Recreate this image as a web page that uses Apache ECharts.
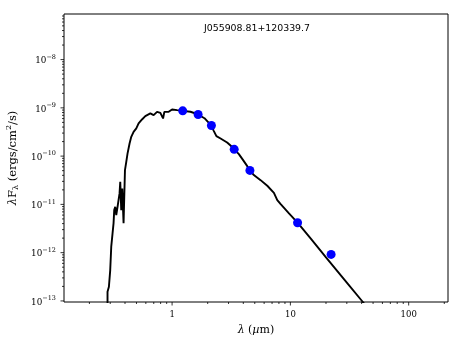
<!DOCTYPE html>
<html>
<head>
<meta charset="utf-8">
<script src="https://cdn.jsdelivr.net/npm/echarts@6/dist/echarts.min.js"></script>
<style>
  html, body { margin: 0; padding: 0; background: #fff; }
  #main { width: 463px; height: 348px; }
</style>
</head>
<body>
<div id="main"></div>
<script>
// model spectrum (wavelength in micron, lambda*F_lambda)
var modelWave = [0.2846, 0.2846, 0.2846, 0.2924, 0.300, 0.306, 0.3139, 0.320, 0.3243, 0.3307,
  0.3373, 0.3459, 0.3527, 0.3597, 0.3647, 0.3717, 0.3791, 0.389, 0.3943, 0.3997,
  0.410, 0.4204, 0.4371, 0.4518, 0.4727, 0.4983, 0.5212, 0.5568, 0.5938, 0.6549,
  0.6982, 0.7463, 0.7962, 0.8388, 0.8602, 0.9359, 1.0, 1.102, 1.23, 1.43,
  1.66, 1.878, 2.15, 2.25, 2.37, 2.57, 2.92, 3.12, 3.35, 3.67,
  4.04, 4.32, 4.55, 4.91, 5.6, 6.38, 7.26, 7.75, 8.28, 9.73,
  11.5, 15, 20, 30, 40, 50];
var modelFlux = [5e-14, 1.04e-13, 1.55e-13, 1.97e-13, 4.36e-13, 1.33e-12, 2.51e-12, 4.05e-12, 7.6e-12, 8.9e-12,
  6.0e-12, 8.9e-12, 1.23e-11, 1.69e-11, 2.94e-11, 7.6e-12, 2.14e-11, 4.05e-12, 1.44e-11, 5.13e-11,
  7.62e-11, 1.14e-10, 1.83e-10, 2.51e-10, 3.19e-10, 3.75e-10, 4.75e-10, 5.75e-10, 6.73e-10, 7.66e-10,
  7.06e-10, 8.27e-10, 7.88e-10, 6.03e-10, 8.27e-10, 8.27e-10, 9.27e-10, 8.96e-10, 8.67e-10, 8.3e-10,
  7.3e-10, 6.1e-10, 4.3e-10, 3.34e-10, 2.6e-10, 2.32e-10, 1.92e-10, 1.66e-10, 1.38e-10, 1.1e-10,
  7.87e-11, 6.2e-11, 5.06e-11, 4.05e-11, 3.18e-11, 2.43e-11, 1.74e-11, 1.23e-11, 1.01e-11, 6.5e-12,
  4.2e-12, 1.9e-12, 8.0e-13, 2.4e-13, 1.02e-13, 5.2e-14];

// photometry: J, H, K, W1, W2, W3, W4
var photWave = [1.23, 1.66, 2.15, 3.35, 4.55, 11.5, 22.1];
var photFlux = [8.67e-10, 7.3e-10, 4.3e-10, 1.38e-10, 5.06e-11, 4.16e-12, 9.2e-13];

var title = 'J055908.81+120339.7';
var xMajorTicks = [1, 10, 100];
var yMajorExps = [-13, -12, -11, -10, -9, -8];

var X_MIN = 0.122, X_MAX = 215;
var Y_MIN = 9.5e-14, Y_MAX = 8.8e-8;

function isPow10(v) {
  var l = Math.log10(v);
  return Math.abs(l - Math.round(l)) < 1e-6;
}

// tick marks [value, length]
var xTicks = [], yTicks = [];
for (var e = -1; e <= 2; e++) {
  for (var m = 1; m <= 9; m++) {
    var v = m * Math.pow(10, e);
    if (v >= X_MIN && v <= X_MAX) xTicks.push([v, m === 1 ? 3.5 : 2]);
  }
}
for (var e2 = -14; e2 <= -8; e2++) {
  for (var m2 = 1; m2 <= 9; m2++) {
    var v2 = m2 * Math.pow(10, e2);
    if (v2 >= Y_MIN && v2 <= Y_MAX) yTicks.push([v2, m2 === 1 ? 3.5 : 2]);
  }
}

function tickSeries(ticks, isX) {
  return {
    type: 'custom',
    silent: true,
    clip: false,
    z: 5,
    data: ticks.map(function (t) { return isX ? [t[0], Y_MIN, t[1]] : [X_MIN, t[0], t[1]]; }),
    encode: { x: 0, y: 1 },
    renderItem: function (params, api) {
      var p = api.coord([api.value(0), api.value(1)]);
      var len = api.value(2);
      var shape = isX
        ? { x1: p[0], y1: p[1], x2: p[0], y2: p[1] + len }
        : { x1: p[0], y1: p[1], x2: p[0] - len, y2: p[1] };
      return { type: 'line', shape: shape, style: { stroke: '#000', lineWidth: 0.8 } };
    }
  };
}

var serif = '"DejaVu Serif", serif';

var chart = echarts.init(document.getElementById('main'), null, { renderer: 'canvas' });
chart.setOption({
  animation: false,
  backgroundColor: '#fff',
  grid: {
    left: 64, top: 14, width: 384, height: 288,
    outerBoundsMode: 'none', containLabel: false,
    show: true, borderColor: '#000', borderWidth: 1, backgroundColor: 'transparent'
  },
  graphic: [{
    type: 'text', x: 257, y: 29, z: 10,
    style: {
      text: title, fill: '#000', font: '9.4px "DejaVu Sans"',
      textAlign: 'center', textVerticalAlign: 'middle', align: 'center', verticalAlign: 'middle'
    }
  }],
  xAxis: {
    type: 'log', logBase: 10, min: X_MIN, max: X_MAX,
    axisLine: { show: false }, axisTick: { show: false }, splitLine: { show: false },
    axisLabel: {
      margin: 8, color: '#000', fontFamily: serif, fontSize: 8.5,
      showMinLabel: false, showMaxLabel: false,
      formatter: function (v) {
        for (var i = 0; i < xMajorTicks.length; i++) {
          if (Math.abs(v - xMajorTicks[i]) < 1e-6 * xMajorTicks[i]) return String(xMajorTicks[i]);
        }
        return '';
      }
    },
    name: '{i|λ} {a|(}{i|µ}{a|m)}',
    nameLocation: 'middle', nameGap: 21,
    nameTextStyle: {
      color: '#000',
      rich: {
        a: { fontFamily: serif, fontSize: 11, color: '#000' },
        i: { fontFamily: serif, fontSize: 11, fontStyle: 'italic', color: '#000' }
      }
    }
  },
  yAxis: {
    type: 'log', logBase: 10, min: Y_MIN, max: Y_MAX,
    axisLine: { show: false }, axisTick: { show: false }, splitLine: { show: false },
    axisLabel: {
      margin: 8, color: '#000',
      showMinLabel: false, showMaxLabel: false,
      formatter: function (v) {
        if (!isPow10(v)) return '';
        var ex = Math.round(Math.log10(v));
        if (yMajorExps.indexOf(ex) < 0) return '';
        return '{b|10}{e|−' + Math.abs(ex) + '}';
      },
      rich: {
        b: { fontFamily: serif, fontSize: 8.8, lineHeight: 12, color: '#000', verticalAlign: 'bottom' },
        e: { fontFamily: serif, fontSize: 6.5, lineHeight: 12, color: '#000', verticalAlign: 'top' }
      }
    },
    name: '{i|λ}{a|F}{s|λ}{a| (ergs/cm}{p|2}{a|/s)}',
    nameLocation: 'middle', nameGap: 37, nameRotate: 90,
    nameTextStyle: {
      color: '#000',
      rich: {
        a: { fontFamily: serif, fontSize: 11.5, lineHeight: 15, color: '#000' },
        i: { fontFamily: serif, fontSize: 11.5, lineHeight: 15, fontStyle: 'italic', color: '#000' },
        s: { fontFamily: serif, fontSize: 8, lineHeight: 8, verticalAlign: 'bottom', color: '#000' },
        p: { fontFamily: serif, fontSize: 8, lineHeight: 8, verticalAlign: 'top', color: '#000' }
      }
    }
  },
  series: [
    {
      type: 'line',
      data: modelWave.map(function (w, i) { return [w, modelFlux[i]]; }),
      showSymbol: false, symbol: 'none', clip: true, z: 2,
      lineStyle: { color: '#000', width: 1.9 }
    },
    {
      type: 'scatter',
      data: photWave.map(function (w, i) { return [w, photFlux[i]]; }),
      symbol: 'circle', symbolSize: 9, z: 3,
      itemStyle: { color: '#0000ff', opacity: 1 }
    },
    tickSeries(xTicks, true),
    tickSeries(yTicks, false)
  ]
});
</script>
</body>
</html>
